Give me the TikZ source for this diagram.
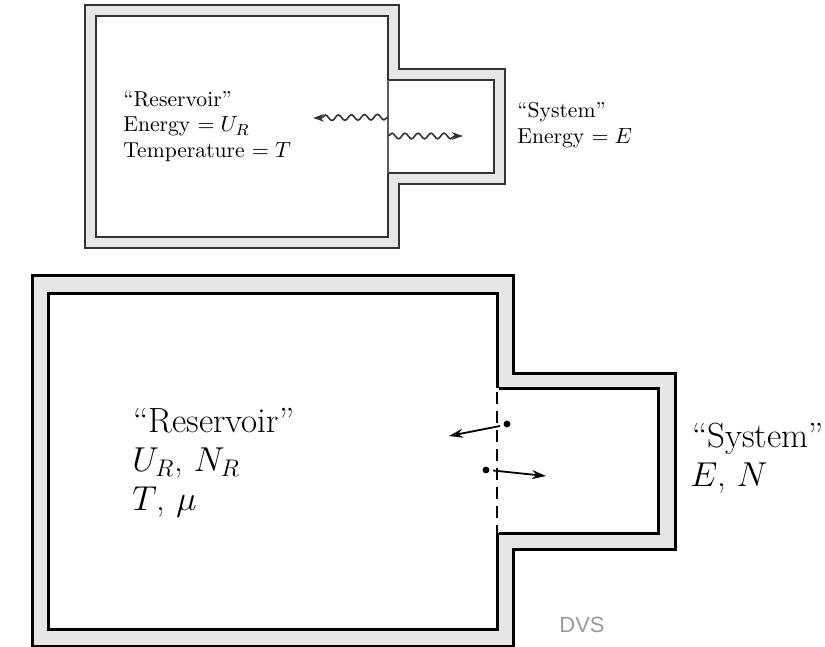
\documentclass[tikz,border=0pt]{standalone}
\usepackage{fontspec}
\newfontfamily\dvsfont{Liberation Sans}
\usetikzlibrary{arrows.meta,decorations.pathmorphing}
\definecolor{wallgray}{HTML}{E6E6E6}
\definecolor{topline}{HTML}{333333}
\definecolor{dvsgray}{HTML}{9A9A9A}
\tikzset{
  smalltxt/.style={anchor=base west, inner sep=0pt, font=\fontsize{10.8}{13}\selectfont},
  bigtxt/.style={anchor=base west, inner sep=0pt, font=\fontsize{17.5}{21}\selectfont},
  topwall/.style={draw=topline, line width=1pt, fill=wallgray, even odd rule},
  botwall/.style={draw=black, line width=1.5pt, fill=wallgray, even odd rule},
  wavy/.style={draw=topline, line width=0.8pt, decorate,
    decoration={snake, segment length=6.5pt, amplitude=1.4pt, post length=4pt},
    -{Stealth[length=5.5pt,width=3.8pt]}},
  partarrow/.style={line width=0.9pt, -{Stealth[length=7pt,width=4.5pt]}},
  partdot/.style={circle, fill=black, inner sep=0pt, minimum size=3.4pt},
}
\begin{document}
\begin{tikzpicture}[x=0.5pt,y=-0.5pt]
\useasboundingbox (0,0) rectangle (825,647);
% ---------- top diagram ----------
\path[topwall]
  (85,5) -- (399,5) -- (399,69) -- (505,69) -- (505,184) -- (399,184) -- (399,248) -- (85,248) -- cycle
  (96,16) -- (388,16) -- (388,80) -- (494,80) -- (494,173) -- (388,173) -- (388,237) -- (96,237) -- cycle;
\coordinate (tp1) at (388,80);
\coordinate (tp2) at (388,173);
\draw[topline!80, line width=1pt] (tp1) -- (tp2);
\coordinate (wlA) at (388,117);
\coordinate (wlB) at (313,118);
\coordinate (wrA) at (388,136);
\coordinate (wrB) at (463,136);
\draw[wavy] (wlA) -- (wlB);
\draw[wavy] (wrA) -- (wrB);
\node[smalltxt] (tr1) at (123,107) {``Reservoir''};
\node[smalltxt] (tr2) at (123,132) {Energy $= U_R$};
\node[smalltxt] (tr3) at (123,157) {Temperature $= T$};
\node[smalltxt] (ts1) at (517,118) {``System''};
\node[smalltxt] (ts2) at (517,144) {Energy $= E$};
% ---------- bottom diagram ----------
\path[botwall]
  (32,275) -- (513,275) -- (513,373) -- (675,373) -- (675,549) -- (513,549) -- (513,646) -- (32,646) -- cycle
  (48,293) -- (497,293) -- (497,388) -- (658,388) -- (658,533) -- (497,533) -- (497,629) -- (48,629) -- cycle;
\coordinate (bp1) at (497,388);
\coordinate (bp2) at (497,533);
\draw[white, line width=2.2pt] (bp1) -- (bp2);
\draw[line width=1pt, dash pattern=on 6pt off 3.5pt, dash phase=-2pt] (bp1) -- (bp2);
\node[partdot] (d1) at (507,424) {};
\node[partdot] (d2) at (486,470) {};
\coordinate (a1) at (449,436);
\coordinate (a2) at (546,476);
\draw[partarrow] (d1) ++(-7,2) -- (a1);
\draw[partarrow] (d2) ++(7,0.5) -- (a2);
\node[bigtxt] (br1) at (133,432) {``Reservoir''};
\node[bigtxt] (br2) at (132,471) {$U_R$, $N_R$};
\node[bigtxt] (br3) at (132,510) {$T$, $\mu$};
\node[bigtxt] (bs1) at (692,447) {``System''};
\node[bigtxt] (bs2) at (690,486) {$E$, $N$};
\node[anchor=center, inner sep=0pt, text=dvsgray, font=\dvsfont\fontsize{11}{13}\selectfont] (dvs) at (582,625) {DVS};
\end{tikzpicture}
\end{document}
